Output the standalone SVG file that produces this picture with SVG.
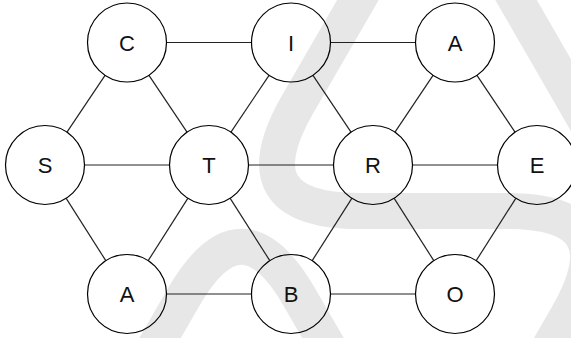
<svg xmlns="http://www.w3.org/2000/svg" width="571" height="338" viewBox="0 0 571 338">
<style>
.wm{fill:none;stroke:#e7e7e7;stroke-width:36;stroke-linecap:butt}
.node circle{fill:none;stroke:#000;stroke-width:1.2}
.node text{font-family:"Liberation Sans",Arial,sans-serif;font-size:22px;fill:#111;text-anchor:middle}
#edges line{stroke:#222;stroke-width:1.2}
</style>
<rect width="571" height="338" fill="#fff"/>
<g id="watermark">
<path class="wm" d="M369.5,-20 L297.5,104.5 Q236,211 359,211 L508,211 Q628,211 568,315 L542,360"/>
<path class="wm" d="M504.5,-20 L631.4,200"/>
<path class="wm" d="M147.3,360 L184,296.6 Q241.5,197 299,296.6 L335.7,360"/>
</g>
<g id="edges">
<line x1="166.5" y1="42.5" x2="251.5" y2="42.5"/>
<line x1="330.5" y1="42.5" x2="415.5" y2="42.5"/>
<line x1="84.5" y1="165" x2="169.5" y2="165"/>
<line x1="248.5" y1="165" x2="333.5" y2="165"/>
<line x1="412.5" y1="165" x2="497.5" y2="165"/>
<line x1="166.5" y1="294" x2="251.5" y2="294"/>
<line x1="330.5" y1="294" x2="415.5" y2="294"/>
<line x1="105.03" y1="75.33" x2="66.97" y2="132.17"/>
<line x1="148.97" y1="75.33" x2="187.03" y2="132.17"/>
<line x1="269.03" y1="75.33" x2="230.97" y2="132.17"/>
<line x1="312.97" y1="75.33" x2="351.03" y2="132.17"/>
<line x1="433.03" y1="75.33" x2="394.97" y2="132.17"/>
<line x1="476.97" y1="75.33" x2="515.03" y2="132.17"/>
<line x1="66.19" y1="198.33" x2="105.81" y2="260.67"/>
<line x1="187.81" y1="198.33" x2="148.19" y2="260.67"/>
<line x1="230.19" y1="198.33" x2="269.81" y2="260.67"/>
<line x1="351.81" y1="198.33" x2="312.19" y2="260.67"/>
<line x1="394.19" y1="198.33" x2="433.81" y2="260.67"/>
<line x1="515.81" y1="198.33" x2="476.19" y2="260.67"/>
</g>
<g id="node-C" class="node"><circle cx="127" cy="42.5" r="39.5"/><text x="127" y="50.5">C</text></g>
<g id="node-I" class="node"><circle cx="291" cy="42.5" r="39.5"/><text x="291" y="50.5">I</text></g>
<g id="node-A1" class="node"><circle cx="455" cy="42.5" r="39.5"/><text x="455" y="50.5">A</text></g>
<g id="node-S" class="node"><circle cx="45" cy="165" r="39.5"/><text x="45" y="173">S</text></g>
<g id="node-T" class="node"><circle cx="209" cy="165" r="39.5"/><text x="209" y="173">T</text></g>
<g id="node-R" class="node"><circle cx="373" cy="165" r="39.5"/><text x="373" y="173">R</text></g>
<g id="node-E" class="node"><circle cx="537" cy="165" r="39.5"/><text x="537" y="173">E</text></g>
<g id="node-A2" class="node"><circle cx="127" cy="294" r="39.5"/><text x="127" y="302">A</text></g>
<g id="node-B" class="node"><circle cx="291" cy="294" r="39.5"/><text x="291" y="302">B</text></g>
<g id="node-O" class="node"><circle cx="455" cy="294" r="39.5"/><text x="455" y="302">O</text></g>
</svg>
